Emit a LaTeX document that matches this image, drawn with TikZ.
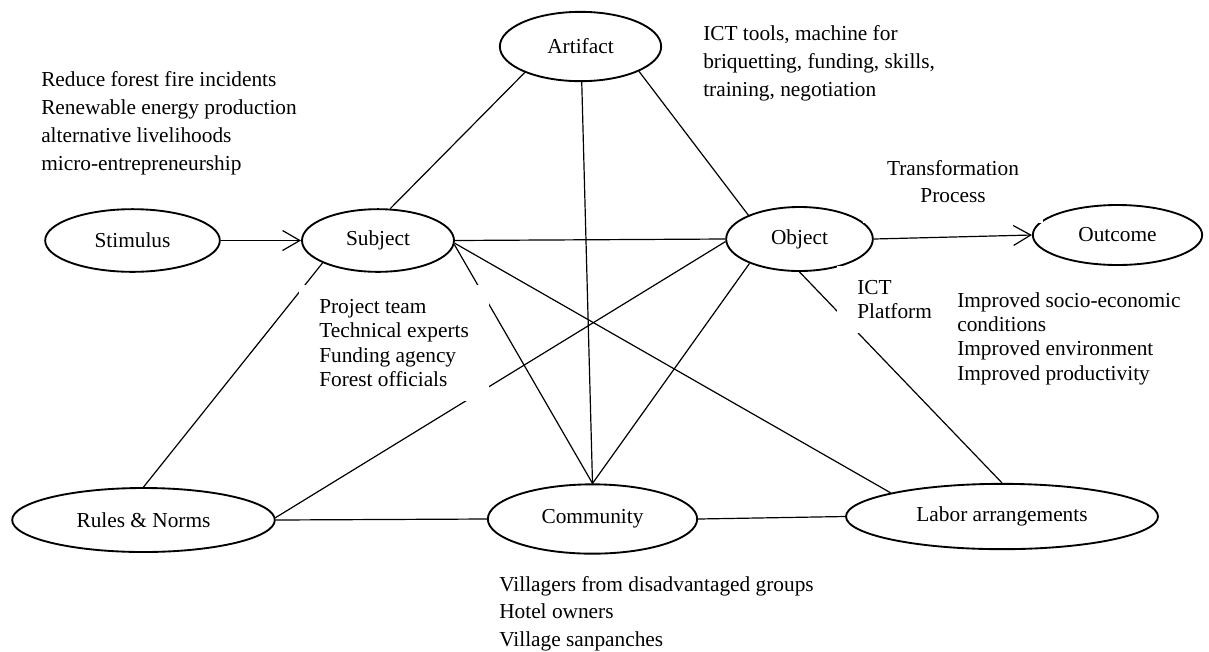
\documentclass[tikz,border=0pt]{standalone}
\usepackage{fontspec}
\setmainfont{Liberation Serif}
\usetikzlibrary{shapes.geometric,arrows.meta}

\begin{document}
\begin{tikzpicture}[x=0.75pt, y=-0.75pt,
every node/.style={font=\fontsize{16}{21}\selectfont},
box/.style={ellipse, draw, line width=1.4pt, inner sep=0pt},
link/.style={line width=0.9pt},
note/.style={fill=white, align=left, anchor=north west, inner xsep=15pt, inner ysep=11pt},
>={Straight Barb[length=13pt,width=15pt]}]

\useasboundingbox (0,0) rectangle (1209,651);

\node[box, minimum width=131pt, minimum height=47pt] (stimulus)  at (132.5,240.5) {Stimulus};
\node[box, minimum width=114pt, minimum height=47pt] (subject)   at (378,240.5)   {Subject};
\node[box, minimum width=121pt, minimum height=52pt] (artifact)  at (580.5,46.5)  {Artifact};
\node[box, minimum width=110pt, minimum height=48pt] (object)    at (799.5,239)   {Object};
\node[box, minimum width=127pt, minimum height=45pt] (outcome)   at (1117.5,235)  {Outcome};
\node[box, minimum width=197pt, minimum height=48pt] (rules)     at (143.5,520)   {Rules \& Norms};
\node[box, minimum width=157pt, minimum height=52pt] (community) at (592.5,519)   {Community};
\node[box, minimum width=234pt, minimum height=49pt] (labor)     at (1002,516.5)  {Labor arrangements};

\draw[link, ->] (stimulus) -- (subject);
\draw[link, ->] (object.0) -- (outcome.180);
\draw[link] (subject.69) -- (artifact.205);
\draw[link] (artifact.272) -- (community.90);
\draw[link] (artifact.337) -- (object.155);
\draw[link] (subject.0) -- (object.180);
\draw[link] (subject.357) -- (community.90);
\draw[link] (subject.358) -- (labor.168);
\draw[link] (subject.202) -- (rules.90);
\draw[link] (object.182) -- (rules.1);
\draw[link] (object.206) -- (community.90);
\draw[link] (object.270) -- (labor.90);
\draw[link] (rules.0) -- (community.180);
\draw[link] (community.0) -- (labor.180);

\node[note] (goals) at (21,56.5) {Reduce forest fire incidents\\Renewable energy production\\alternative livelihoods\\micro-entrepreneurship};
\node[note] (tools) at (683,10.5) {ICT tools, machine for\\briquetting, funding, skills,\\training, negotiation};
\node[note, anchor=north, align=center, inner xsep=18pt, inner ysep=15pt, font=\fontsize{16}{20.3}\selectfont] (process) at (953,140.5) {Transformation\\Process};
\node[note, font=\fontsize{16}{18.2}\selectfont] (actors) at (299,284.5) {Project team\\Technical experts\\Funding agency\\Forest officials};
\node[note, font=\fontsize{16}{18}\selectfont] (platform) at (837,265.5) {ICT\\Platform};
\node[note, font=\fontsize{16}{18.2}\selectfont] (results) at (937,277.5) {Improved socio-economic\\conditions\\Improved environment\\Improved productivity};
\node[note, font=\fontsize{16}{20.6}\selectfont] (members) at (479,561.5) {Villagers from disadvantaged groups\\Hotel owners\\Village sanpanches};

\end{tikzpicture}
\end{document}
